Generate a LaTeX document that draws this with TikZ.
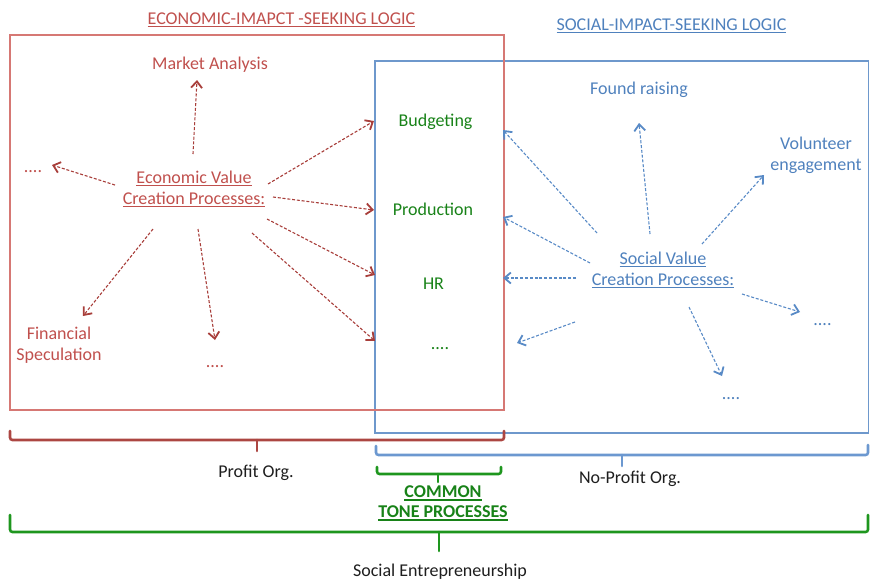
\documentclass[tikz,border=0pt]{standalone}
\usepackage{fontspec}
\setmainfont{Carlito}
\usetikzlibrary{arrows.meta,calc}

\definecolor{ecotext}{RGB}{192,80,77}
\definecolor{ecoarrow}{RGB}{168,62,58}
\definecolor{ecoframe}{RGB}{214,120,116}
\definecolor{ecobrace}{RGB}{172,70,66}
\definecolor{soctext}{RGB}{79,129,189}
\definecolor{socarrow}{RGB}{88,138,198}
\definecolor{socframe}{RGB}{110,152,204}
\definecolor{socbrace}{RGB}{108,152,208}
\definecolor{comtext}{RGB}{24,130,24}
\definecolor{combrace}{RGB}{30,150,30}
\definecolor{plain}{RGB}{30,30,30}

% underline drawn as a rule in the current text colour
\newcommand\ulx[1]{\leavevmode\setbox0=\hbox{#1}\rlap{\rule[-3pt]{\wd0}{1.4pt}}\box0}

\begin{document}
\begin{tikzpicture}[x=1pt,y=-1pt,
  txt/.style={font=\fontsize{18}{21}\selectfont, align=center, inner sep=0pt, anchor=base},
  eco/.style={txt, text=ecotext},
  soc/.style={txt, text=soctext},
  com/.style={txt, text=comtext},
  blk/.style={txt, text=plain},
  tip/.style={-{Straight Barb[length=6.5pt,width=11pt,line width=1.8pt]}},
  ecoarr/.style={tip, draw=ecoarrow, line width=1.1pt, dash pattern=on 3pt off 1.8pt},
  socarr/.style={tip, draw=socarrow, line width=1.1pt, dash pattern=on 3pt off 1.8pt},
  brace/.style={line width=2.6pt, rounded corners=2.5pt, line cap=round}]
\useasboundingbox (0,0) rectangle (870,587);

% frames of the two logics
\draw[socframe, line width=1.4pt] (375,61) rectangle (868.5,433);
\draw[ecoframe, line width=1.6pt] (10,35) rectangle (504,410);

% titles
\node[eco] (ecotitle) at (281.5,24.3) {\ulx{ECONOMIC-IMAPCT -SEEKING LOGIC}};
\node[soc] (soctitle) at (671.5,30) {\ulx{SOCIAL-IMPACT-SEEKING LOGIC}};

% economic side (two-line nodes sit on the baseline of their last line)
\node[eco] (ev) at (194,204.3) {\ulx{Economic Value}\\\ulx{Creation Processes:}};
\node[eco] (ma) at (210,69) {Market Analysis};
\node[eco] (edots) at (33,172) {....};
\node[eco] (fs) at (59,360) {Financial\\Speculation};
\node[eco] (bdots) at (215,367) {....};

% common processes
\node[com] (bud) at (435.5,126.7) {Budgeting};
\node[com] (prod) at (433,215) {Production};
\node[com] (hr) at (433.5,289) {HR};
\node[com] (gdots) at (440,349) {....};

% social side
\node[soc] (sv) at (663,285) {\ulx{Social Value}\\\ulx{Creation Processes:}};
\node[soc] (fr) at (639,94) {Found raising};
\node[soc] (vol) at (816,170) {Volunteer\\engagement};
\node[soc] (sd1) at (822.5,325.5) {....};
\node[soc] (sd2) at (731,399.5) {....};

% economic value creation arrows
\draw[ecoarr] ($(ev.base)+(-1,-50.3)$) -- ($(ma.base)+(-13,11)$);
\draw[ecoarr] ($(ev.base)+(-79,-19.3)$) -- ($(edots.base)+(19,-7)$);
\draw[ecoarr] ($(ev.base)+(74,-20.3)$) -- ($(bud.base)+(-61.5,-5.7)$);
\draw[ecoarr] ($(ev.base)+(79,-7.3)$) -- ($(prod.base)+(-59,-5)$);
\draw[ecoarr] ($(ev.base)+(73,14.7)$) -- ($(hr.base)+(-58.5,-14)$);
\draw[ecoarr] ($(ev.base)+(58,28.7)$) -- ($(gdots.base)+(-65,-8)$);
\draw[ecoarr] ($(ev.base)+(-41,24.7)$) -- ($(fs.base)+(24,-44)$);
\draw[ecoarr] ($(ev.base)+(4,24.7)$) -- ($(bdots.base)+(0,-27)$);

% social value creation arrows
\draw[socarr] ($(sv.base)+(-66,-52)$) -- ($(bud.base)+(67.5,3.3)$);
\draw[socarr] ($(sv.base)+(-73,-22)$) -- ($(prod.base)+(70,2)$);
\draw[socarr] ($(sv.base)+(-13,-51)$) -- ($(fr.base)+(0,29)$);
\draw[socarr] ($(sv.base)+(39,-41)$) -- ($(vol.base)+(-52,5)$);
\draw[socarr] ($(sv.base)+(-87,-7)$) -- ($(hr.base)+(69.5,-11)$);
\draw[socarr] ($(sv.base)+(-88,37)$) -- ($(gdots.base)+(77,-6)$);
\draw[socarr] ($(sv.base)+(79,9)$) -- ($(sd1.base)+(-22.5,-13.5)$);
\draw[socarr] ($(sv.base)+(26,22)$) -- ($(sd2.base)+(-9,-23.5)$);

% braces
\draw[brace, ecobrace] (10,431) -- (10,440) -- (504,440) -- (504,431);
\draw[brace, ecobrace] (257,440) -- (257,451);
\draw[brace, socbrace] (376,446) -- (376,455) -- (868,455) -- (868,445);
\draw[brace, socbrace] (622,455) -- (622,466);
\draw[brace, combrace] (377,467) -- (377,474) -- (501,474) -- (501,467);
\draw[brace, combrace] (438,474) -- (438,482);
\draw[brace, combrace] (10,515) -- (10,532) -- (868,532) -- (868,515);
\draw[brace, combrace] (439,532) -- (439,551);

% brace labels
\node[blk] (profit) at (256,477) {Profit Org.};
\node[blk] (noprofit) at (630,483.3) {No-Profit Org.};
\node[com, font=\bfseries\fontsize{18}{20}\selectfont] (common) at (443,517.5) {\ulx{COMMON}\\\ulx{TONE PROCESSES}};
\node[blk] (se) at (440,576.7) {Social Entrepreneurship};
\end{tikzpicture}
\end{document}
